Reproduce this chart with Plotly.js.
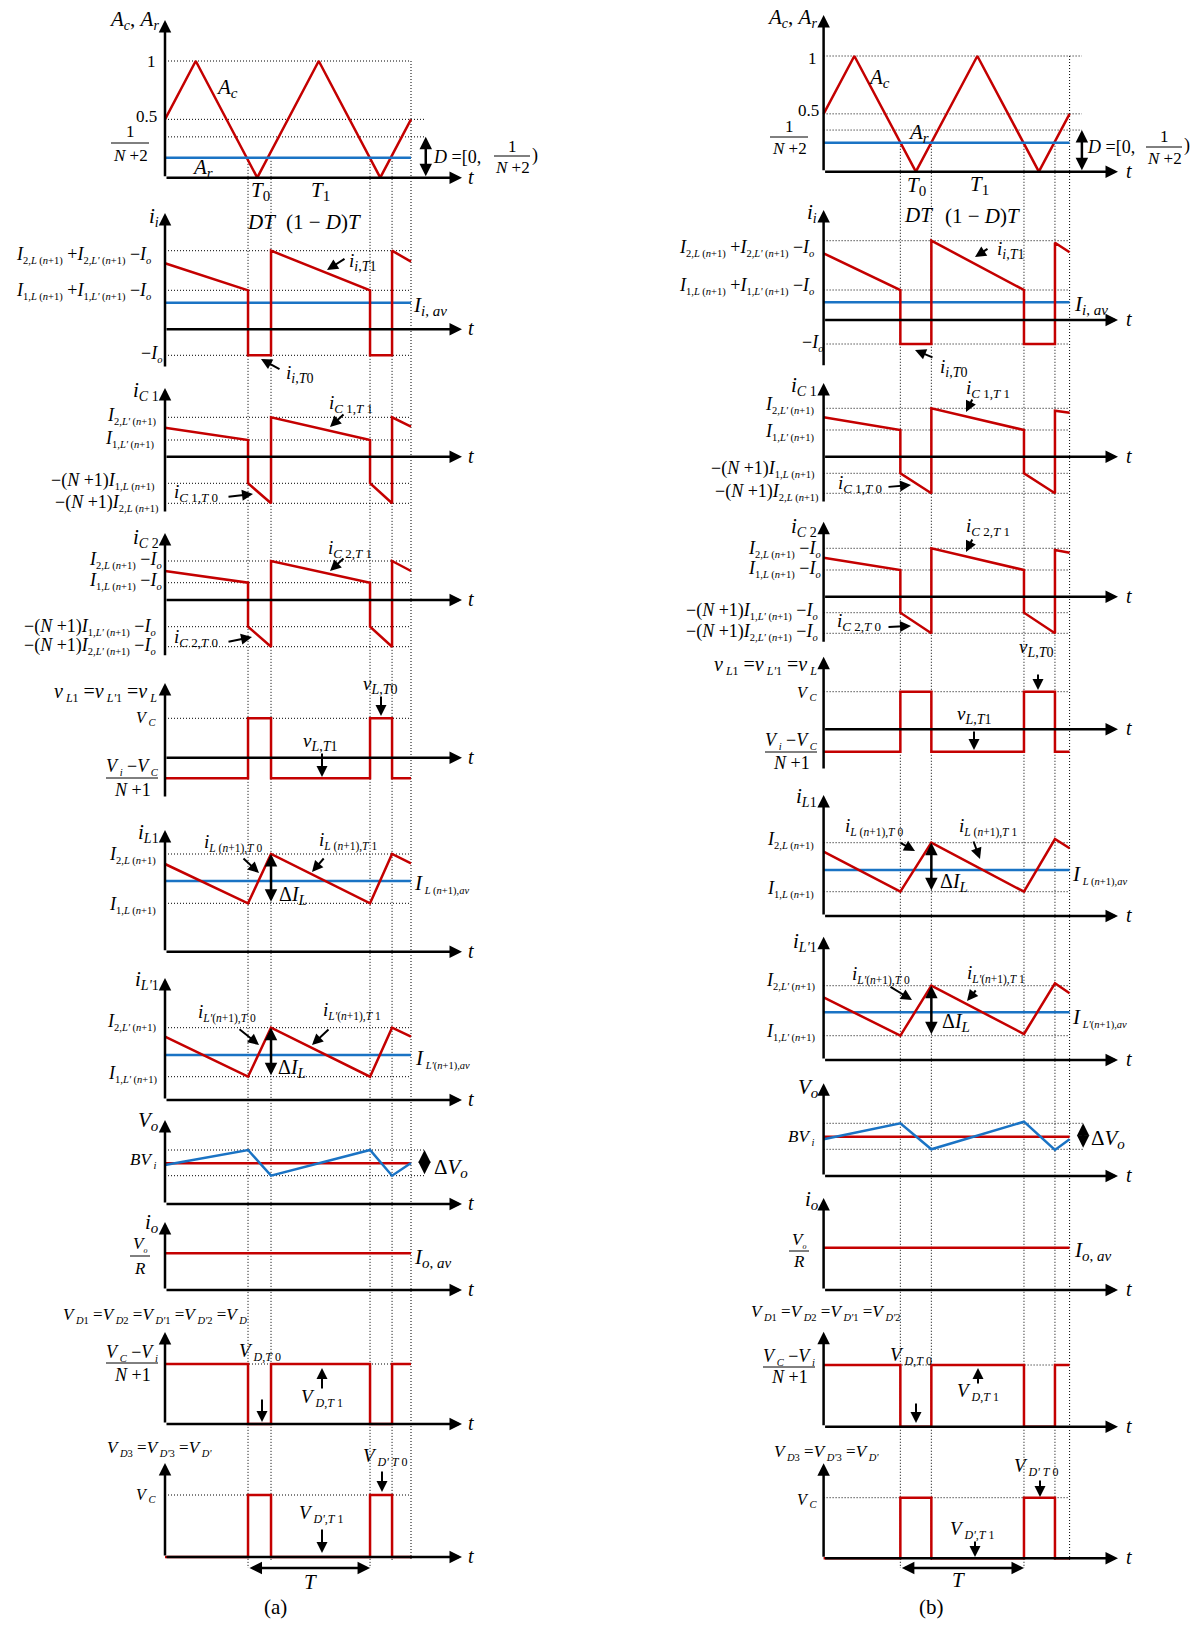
<!DOCTYPE html>
<html>
<head>
<meta charset="utf-8">
<script src="https://cdn.plot.ly/plotly-3.0.1.min.js"></script>
<style>html,body{margin:0;padding:0;background:#fff;}#chart{width:1200px;height:1630px;}</style>
</head>
<body>
<div id="chart"></div>
<script>
// ================= DATA =================
// time in units of the switching period T ; panel values in picture units above the t axis
const carrierT  = [0, 0.25, 0.75, 1.25, 1.75, 2.0];
const carrierAc = [0.5, 1, 0, 1, 0, 0.5];
const tEnd = 2.0;
const arA = 0.17, arB = 0.25;          // A_r level (= D)
const invA = 0.35, invB = 0.36;        // 1/(N+2)
const swA = [0.675, 0.862, 1.667, 1.846];   // switching instants (a)
const swB = [0.624, 0.876, 1.629, 1.881];   // switching instants (b)

// ---- (a) ----
const iiA   = [66, 39, -26, -26, 78.6, 39, -26, -26, 78.6, 67.6];
const iiLvA = [78.6, 39, -26];
const iiAvA = 26.6;
const ic1A   = [29, 16.7, -26.6, -46.6, 39.4, 16.7, -26.6, -46.6, 39.4, 30];
const ic1LvA = [39.4, 16.7, -26.6, -46.6];
const ic2A   = [29, 17.3, -26.7, -46.7, 39, 17.3, -26.7, -46.7, 39, 29];
const ic2LvA = [39, 17.3, -26.7, -46.7];
const vLA   = [-20.6, -20.6, 39.4, 39.4, -20.6, -20.6, 39.4, 39.4, -20.6, -20.6];
const vLLvA = [39.4];
const iL1A   = [87.7, 48.4, 97.7, 48.4, 97.7, 88.4];
const iL1LvA = [97.7, 48.4];
const iL1AvA = 70.7;
const iLpA   = [63.3, 23.3, 72.3, 23.3, 72.3, 63.3];
const iLpLvA = [72.3, 23.3];
const iLpAvA = 45;
const voA   = [39, 54, 28.3, 54, 28.3, 41];
const voLvA = [54, 28.3];
const bvA = 40.7;
const ioA = 36.7;
const vDA   = [60, 60, 0, 0, 60, 60, 0, 0, 60, 60];
const vDLvA = [60];
const vDpA   = [0, 0, 62, 62, 0, 0, 62, 62, 0, 0];
const vDpLvA = [62];

// ---- (b) ----
const iiB   = [66.7, 30, -24, -24, 79.3, 30, -24, -24, 77.3, 67.7];
const iiLvB = [79.3, 30, -24];
const iiAvB = 17.7;
const ic1B   = [39.4, 26.7, -16.6, -36.6, 48.4, 26.7, -16.6, -36.6, 46, 44];
const ic1LvB = [48.4, 26.7, -16.6, -36.6];
const ic2B   = [39, 26.7, -16, -36.6, 48.4, 26.7, -16, -36.6, 46.7, 44];
const ic2LvB = [48.4, 26.7, -16, -36.6];
const vLB   = [-22.4, -22.4, 37.6, 37.6, -22.4, -22.4, 37.6, 37.6, -22.4, -22.4];
const vLLvB = [37.6];
const iL1B   = [64.3, 24.3, 73.3, 24.3, 77, 67.7];
const iL1LvB = [73.3, 24.3];
const iL1AvB = 46;
const iLpB   = [62.7, 24.3, 74.3, 26, 76.7, 66.7];
const iLpLvB = [74.3, 24.3];
const iLpAvB = 47.7;
const voB   = [36.7, 52.7, 26.7, 54.3, 26, 36.7];
const voLvB = [52.7, 26.7];
const bvB = 39.3;
const ioB = 42.3;
const vDB   = [61.7, 61.7, 0, 0, 61.7, 61.7, 0, 0, 61.7, 61.7];
const vDLvB = [61.7];
const vDpB   = [0, 0, 60.6, 60.6, 0, 0, 60.6, 60.6, 0, 0];
const vDpLvB = [60.6];

// ================= STYLE / LAYOUT =================
const W = 1200, H = 1630, PX_T = 123;
const SERIF = 'Liberation Serif';
const RED = '#c40000', BLUE = '#1a73c4', BLK = '#000000';
const DOT = '1px,2px';

const traces = [], annotations = [], shapes = [];
const layout = {
  width: W, height: H, margin: {l: 0, r: 0, t: 0, b: 0},
  paper_bgcolor: '#ffffff', plot_bgcolor: 'rgba(0,0,0,0)', showlegend: false,
  font: {family: SERIF, color: BLK, size: 16}, annotations, shapes
};

function ax(k) { return k === 1 ? ['x', 'y'] : ['x' + k, 'y' + k]; }
function axKeys(k) { return k === 1 ? ['xaxis', 'yaxis'] : ['xaxis' + k, 'yaxis' + k]; }
function defineAxes(k, col, top, bot, yr) {
  const [xk, yk] = axKeys(k), [xi, yi] = ax(k);
  layout[xk] = {domain: [col.left / W, col.right / W],
    range: [(col.left - col.x0) / PX_T, (col.right - col.x0) / PX_T],
    visible: false, fixedrange: true, anchor: yi};
  layout[yk] = {domain: [1 - bot / H, 1 - top / H], range: yr, visible: false, fixedrange: true, anchor: xi};
}
function addLine(k, x, y, color, width, dash) {
  const [xi, yi] = ax(k);
  traces.push({type: 'scatter', mode: 'lines', x, y, xaxis: xi, yaxis: yi,
    line: {color, width, dash: dash || 'solid'}, hoverinfo: 'skip', connectgaps: false});
}
function refs(k, levels, t1) {
  levels.forEach(v => addLine(k, [0, t1], [v, v], BLK, 1, DOT));
}
function arr(k, xt, yt, xh, yh, w, both) {
  const [xi, yi] = ax(k);
  annotations.push({xref: xi, yref: yi, axref: xi, ayref: yi, x: xh, y: yh, ax: xt, ay: yt,
    text: '', showarrow: true, arrowhead: 2, arrowsize: 1, arrowwidth: w, arrowcolor: BLK,
    standoff: 0, startstandoff: 0, arrowside: both ? 'end+start' : 'end',
    startarrowhead: 2, startarrowsize: 1, font: {family: SERIF, size: 10}});
}
function ptr(x1, y1, x2, y2) {
  annotations.push({xref: 'paper', yref: 'paper', x: x2 / W, y: 1 - y2 / H, ax: x1 - x2, ay: y1 - y2,
    axref: 'pixel', ayref: 'pixel', text: '', showarrow: true, arrowhead: 2, arrowsize: 1.1,
    arrowwidth: 2, arrowcolor: BLK, standoff: 0, font: {family: SERIF, size: 10}});
}
function lab(text, x, y, xanchor, size) {
  annotations.push({xref: 'paper', yref: 'paper', x: x / W, y: 1 - y / H, text, showarrow: false,
    xanchor: xanchor || 'center', yanchor: 'middle', borderpad: 0,
    font: {family: SERIF, size: size || 16, color: BLK}});
}
function frac(num, den, cx, yN, yB, yD, hw, size) {
  lab(num, cx, yN, 'center', size); lab(den, cx, yD, 'center', size);
  shapes.push({type: 'line', xref: 'paper', yref: 'paper', x0: (cx - hw) / W, x1: (cx + hw) / W,
    y0: 1 - yB / H, y1: 1 - yB / H, line: {color: BLK, width: 1}});
}
function setupPanel(k, col, g) {
  const s = g.s || 1;
  defineAxes(k, col, g.top, g.bot, [(g.ay - g.bot) / s, (g.ay - g.top) / s]);
  const tipT = (col.tip - col.x0) / PX_T;
  arr(k, 0, 0, tipT, 0, 2.5, false);
  arr(k, 0, (g.ay - g.base) / s, 0, (g.ay - g.tipY) / s, 2.5, false);
  lab('<i>t</i>', col.tLab, g.ay - 1, 'left', 20);
}
const pulseT = sw => [0, sw[0], sw[0], sw[1], sw[1], sw[2], sw[2], sw[3], sw[3], tEnd];

// ================= TEXT =================
const TS = 10.5;
const it = s => '<i>' + s + '</i>';
const sb = (s, f) => '<sub><span style="font-size:' + f + 'px">' + s + '</span></sub>';
const nL = a => a + ',' + it('L') + ' (' + it('n') + '+1)';
const nLp = a => a + ',' + it("L'") + ' (' + it('n') + '+1)';
const Io = it('I') + sb(it('o'), TS);
const tx = {
  AcAr: it('A') + sb(it('c'), 14) + ', ' + it('A') + sb(it('r'), 14),
  Ac: it('A') + sb(it('c'), 15),
  Ar: it('A') + sb(it('r'), 15),
  T0: it('T') + sb('0', 15), T1: it('T') + sb('1', 15),
  DT: it('DT'), oneMinusD: '(1 − ' + it('D') + ')' + it('T'),
  Deq: it('D') + ' =[0,',
  ii: it('i') + sb(it('i'), 14),
  iiHi: it('I') + sb(nL('2'), TS) + ' +' + it('I') + sb(nLp('2'), TS) + ' −' + Io,
  iiLo: it('I') + sb(nL('1'), TS) + ' +' + it('I') + sb(nLp('1'), TS) + ' −' + Io,
  negIo: '−' + Io,
  iiAv: it('I') + sb(it('i') + ', ' + it('av'), 15),
  iiT1: it('i') + sb(it('i') + ',' + it('T') + '1', 14),
  iiT0: it('i') + sb(it('i') + ',' + it('T') + '0', 14),
  ic1: it('i') + sb(it('C') + ' 1', 14),
  ic1Hi: it('I') + sb(nLp('2'), TS),
  ic1Lo: it('I') + sb(nLp('1'), TS),
  ic1N1: '−(' + it('N') + ' +1)' + it('I') + sb(nL('1'), TS),
  ic1N2: '−(' + it('N') + ' +1)' + it('I') + sb(nL('2'), TS),
  ic1T1: it('i') + sb(it('C') + ' 1,' + it('T') + ' 1', 13),
  ic1T0: it('i') + sb(it('C') + ' 1,' + it('T') + ' 0', 13),
  ic2: it('i') + sb(it('C') + ' 2', 14),
  ic2Hi: it('I') + sb(nL('2'), TS) + ' −' + Io,
  ic2Lo: it('I') + sb(nL('1'), TS) + ' −' + Io,
  ic2N1: '−(' + it('N') + ' +1)' + it('I') + sb(nLp('1'), TS) + ' −' + Io,
  ic2N2: '−(' + it('N') + ' +1)' + it('I') + sb(nLp('2'), TS) + ' −' + Io,
  ic2T1: it('i') + sb(it('C') + ' 2,' + it('T') + ' 1', 13),
  ic2T0: it('i') + sb(it('C') + ' 2,' + it('T') + ' 0', 13),
  vL: it('v') + sb(' ' + it('L') + '1', 12) + ' =' + it('v') + sb(' ' + it("L'") + '1', 12) + ' =' + it('v') + sb(' ' + it('L'), 12),
  VC: it('V') + sb(' ' + it('C'), TS),
  fViVC: it('V') + sb(' ' + it('i'), TS) + ' −' + it('V') + sb(' ' + it('C'), TS),
  fN1: it('N') + ' +1',
  vLT0: it('v') + sb(it('L') + ',' + it('T') + '0', 14),
  vLT1: it('v') + sb(it('L') + ',' + it('T') + '1', 14),
  iL1: it('i') + sb(it('L') + '1', 14),
  iLHi: it('I') + sb(nL('2'), TS),
  iLLo: it('I') + sb(nL('1'), TS),
  iLAv: it('I') + sb(' ' + it('L') + ' (' + it('n') + '+1),' + it('av'), 10.5),
  iLT0: it('i') + sb(it('L') + ' (' + it('n') + '+1),' + it('T') + ' 0', 11.5),
  iLT1: it('i') + sb(it('L') + ' (' + it('n') + '+1),' + it('T') + ' 1', 11.5),
  dIL: 'Δ' + it('I') + sb(it('L'), 15),
  iLp1: it('i') + sb(it("L'") + '1', 14),
  iLpHi: it('I') + sb(nLp('2'), TS),
  iLpLo: it('I') + sb(nLp('1'), TS),
  iLpAv: it('I') + sb(' ' + it("L'") + '(' + it('n') + '+1),' + it('av'), 10.5),
  iLpT0: it('i') + sb(it("L'") + '(' + it('n') + '+1),' + it('T') + ' 0', 11.5),
  iLpT1: it('i') + sb(it("L'") + '(' + it('n') + '+1),' + it('T') + ' 1', 11.5),
  Vo: it('V') + sb(it('o'), 15),
  BVi: it('BV') + sb(' ' + it('i'), TS),
  dVo: 'Δ' + it('V') + sb(it('o'), 15),
  io: it('i') + sb(it('o'), 15),
  fVo: it('V') + sb(it('o'), 8), fR: it('R'),
  ioAv: it('I') + sb(it('o') + ', ' + it('av'), 15),
  VDa: it('V') + sb(' ' + it('D') + '1', TS) + ' =' + it('V') + sb(' ' + it('D') + '2', TS) + ' =' + it('V') + sb(' ' + it("D'") + '1', TS) + ' =' + it('V') + sb(' ' + it("D'") + '2', TS) + ' =' + it('V') + sb(' ' + it('D'), TS),
  VDb: it('V') + sb(' ' + it('D') + '1', TS) + ' =' + it('V') + sb(' ' + it('D') + '2', TS) + ' =' + it('V') + sb(' ' + it("D'") + '1', TS) + ' =' + it('V') + sb(' ' + it("D'") + '2', TS),
  fVCVi: it('V') + sb(' ' + it('C'), TS) + ' −' + it('V') + sb(' ' + it('i'), TS),
  VDT0: it('V') + sb(' ' + it('D') + ',' + it('T') + ' 0', 12),
  VDT1: it('V') + sb(' ' + it('D') + ',' + it('T') + ' 1', 12),
  VDp: it('V') + sb(' ' + it('D') + '3', TS) + ' =' + it('V') + sb(' ' + it("D'") + '3', TS) + ' =' + it('V') + sb(' ' + it("D'"), TS),
  VDpT0: it('V') + sb(' ' + it("D'") + ' ' + it('T') + ' 0', 12),
  VDpT1: it('V') + sb(' ' + it("D'") + ',' + it('T') + ' 1', 12),
  T: it('T')
};
const txt = key => (key in tx ? tx[key] : key);

// ================= GEOMETRY (pixel positions) =================
const colA = {x0: 165, left: 140, right: 485, tip: 462, tLab: 467, dT: 2.12, topRefEnd: 2.0, dVoT: 2.11, tArrowY: 206, TArrowY: 1568};
const colB = {x0: 823.6, left: 800, right: 1145, tip: 1118, tLab: 1125, dT: 2.10, topRefEnd: 2.10, dVoT: 2.11, tArrowY: 199.3, TArrowY: 1568};

const geoA = [
  {ay: 177.7, s: 116.7, top: 12, bot: 184, tipY: 20, base: 177.7},
  {ay: 329.3, top: 208, bot: 372, tipY: 213, base: 368},
  {ay: 456.7, top: 383, bot: 517, tipY: 388, base: 513},
  {ay: 600, top: 528, bot: 661, tipY: 533, base: 656.7},
  {ay: 757.7, top: 678, bot: 802, tipY: 683, base: 798},
  {ay: 951.7, top: 825, bot: 956, tipY: 830, base: 951.7},
  {ay: 1100, top: 973, bot: 1104, tipY: 978, base: 1100},
  {ay: 1204, top: 1115, bot: 1208, tipY: 1120, base: 1204},
  {ay: 1290, top: 1217, bot: 1294, tipY: 1222, base: 1290},
  {ay: 1424, top: 1327, bot: 1428, tipY: 1332, base: 1424},
  {ay: 1557, top: 1458, bot: 1575, tipY: 1463, base: 1557}
];
const geoB = [
  {ay: 171.7, s: 115.7, top: 8, bot: 178, tipY: 15, base: 171.7},
  {ay: 320, top: 205, bot: 370, tipY: 210, base: 366.7},
  {ay: 456.7, top: 378, bot: 507, tipY: 383, base: 503},
  {ay: 596.7, top: 516, bot: 647, tipY: 521.7, base: 643.3},
  {ay: 729.3, top: 651, bot: 774, tipY: 656.7, base: 770},
  {ay: 916, top: 790, bot: 920, tipY: 795, base: 916},
  {ay: 1060, top: 931, bot: 1064, tipY: 936.7, base: 1060},
  {ay: 1176, top: 1078, bot: 1180, tipY: 1083.3, base: 1176},
  {ay: 1290, top: 1193, bot: 1294, tipY: 1198, base: 1290},
  {ay: 1426.7, top: 1326, bot: 1431, tipY: 1331.7, base: 1426.7},
  {ay: 1558.3, top: 1458, bot: 1575, tipY: 1463.3, base: 1558.3}
];

const TK = 18; // tick-label main size
const labelsA = [
  ['AcAr', 160, 20, 'right', 21], ['1', 157, 61, 'right', 17], ['0.5', 158, 116, 'right', 17],
  ['Ac', 227, 88, 'center', 21], ['Ar', 202, 168, 'center', 21],
  ['T0', 260, 191, 'center', 21], ['T1', 320, 191, 'center', 21],
  ['DT', 261, 222, 'center', 21], ['oneMinusD', 323, 222, 'center', 21],
  ['Deq', 432, 157, 'left', 18], [')', 531, 155, 'left', 18],
  ['ii', 160, 217, 'right', 21], ['iiHi', 152, 256, 'right', TK], ['iiLo', 152, 292, 'right', TK],
  ['negIo', 163, 354, 'right', TK], ['iiAv', 412, 306, 'left', 21],
  ['iiT1', 348, 262, 'left', 19], ['iiT0', 285, 374, 'left', 19],
  ['ic1', 160, 391, 'right', 21], ['ic1Hi', 158, 416, 'right', TK], ['ic1Lo', 156, 439, 'right', TK],
  ['ic1N1', 156, 481, 'right', TK], ['ic1N2', 160, 503, 'right', TK],
  ['ic1T1', 328, 404, 'left', 19], ['ic1T0', 173, 493, 'left', 19],
  ['ic2', 160, 538, 'right', 21], ['ic2Hi', 163, 560, 'right', TK], ['ic2Lo', 163, 582, 'right', TK],
  ['ic2N1', 157, 627, 'right', TK], ['ic2N2', 157, 647, 'right', TK],
  ['ic2T1', 327, 549, 'left', 19], ['ic2T0', 173, 638, 'left', 19],
  ['vL', 158, 692, 'right', 20], ['VC', 157, 718, 'right', 16],
  ['vLT0', 362, 685, 'left', 19], ['vLT1', 302, 742, 'left', 19],
  ['iL1', 160, 833, 'right', 21], ['iLHi', 157, 855, 'right', TK], ['iLLo', 157, 905, 'right', TK],
  ['iLAv', 413, 884, 'left', 21], ['iLT0', 203, 843, 'left', 19], ['iLT1', 318, 841, 'left', 19],
  ['dIL', 278, 895, 'left', 20],
  ['iLp1', 160, 980, 'right', 21], ['iLpHi', 158, 1022, 'right', TK], ['iLpLo', 159, 1074, 'right', TK],
  ['iLpAv', 414, 1059, 'left', 21], ['iLpT0', 197, 1013, 'left', 19], ['iLpT1', 322, 1011, 'left', 19],
  ['dIL', 277, 1068, 'left', 20],
  ['Vo', 160, 1121, 'right', 21], ['BVi', 157, 1160, 'right', 17], ['dVo', 433, 1168, 'left', 21],
  ['io', 160, 1223, 'right', 21], ['ioAv', 413, 1258, 'left', 21],
  ['VDa', 62, 1315, 'left', 17], ['VDT0', 238, 1352, 'left', 19], ['VDT1', 300, 1398, 'left', 19],
  ['VDp', 106, 1448, 'left', 17], ['VC', 157, 1495, 'right', 16],
  ['VDpT0', 362, 1457, 'left', 19], ['VDpT1', 298, 1514, 'left', 19],
  ['T', 310, 1582, 'center', 21], ['(a)', 275, 1607, 'center', 21]
];
const fracsA = [
  ['1', it('N') + ' +2', 130, 132, 143, 155, 19, 17],
  ['1', it('N') + ' +2', 512, 146, 156, 168, 18, 17],
  [tx.fViVC, tx.fN1, 132, 767, 778, 790, 26, 18],
  [tx.fVo, tx.fR, 140, 1244, 1256, 1268, 10, 17],
  [tx.fVCVi, tx.fN1, 132, 1353, 1363, 1375, 26, 18]
];
const ptrsA = [
  [346, 258, 327, 270], [281, 370, 261, 359], [345, 413, 330, 427], [227, 497, 253, 494],
  [345, 557, 330, 571], [227, 642, 252, 637], [381, 695, 381, 716], [322, 752, 322, 777],
  [242, 857, 259, 873], [325, 857, 312, 872], [238, 1028, 259, 1045], [330, 1028, 312, 1045],
  [262, 1398, 262, 1422], [322, 1390, 322, 1368], [382, 1470, 382, 1492], [322, 1528, 322, 1553]
];

const labelsB = [
  ['AcAr', 818, 18, 'right', 21], ['1', 818, 58, 'right', 17], ['0.5', 820, 110, 'right', 17],
  ['Ac', 879, 78, 'center', 21], ['Ar', 918, 133, 'center', 21],
  ['T0', 916, 186, 'center', 21], ['T1', 979, 185, 'center', 21],
  ['DT', 918, 215, 'center', 21], ['oneMinusD', 982, 216, 'center', 21],
  ['Deq', 1086, 147, 'left', 18], [')', 1183, 145, 'left', 18],
  ['ii', 818, 213, 'right', 21], ['iiHi', 815, 248, 'right', TK], ['iiLo', 815, 286, 'right', TK],
  ['negIo', 824, 343, 'right', TK], ['iiAv', 1073, 305, 'left', 21],
  ['iiT1', 996, 250, 'left', 19], ['iiT0', 939, 368, 'left', 19],
  ['ic1', 818, 386, 'right', 21], ['ic1Hi', 816, 405, 'right', TK], ['ic1Lo', 816, 432, 'right', TK],
  ['ic1N1', 816, 469, 'right', TK], ['ic1N2', 820, 492, 'right', TK],
  ['ic1T1', 965, 389, 'left', 19], ['ic1T0', 837, 484, 'left', 19],
  ['ic2', 818, 527, 'right', 21], ['ic2Hi', 822, 549, 'right', TK], ['ic2Lo', 822, 569, 'right', TK],
  ['ic2N1', 819, 611, 'right', TK], ['ic2N2', 819, 632, 'right', TK],
  ['ic2T1', 965, 527, 'left', 19], ['ic2T0', 836, 622, 'left', 19],
  ['vL', 818, 665, 'right', 20], ['VC', 818, 693, 'right', 16],
  ['vLT0', 1018, 648, 'left', 19], ['vLT1', 956, 715, 'left', 19],
  ['iL1', 818, 797, 'right', 21], ['iLHi', 815, 840, 'right', TK], ['iLLo', 815, 890, 'right', TK],
  ['iLAv', 1071, 875, 'left', 21], ['iLT0', 844, 827, 'left', 19], ['iLT1', 958, 827, 'left', 19],
  ['dIL', 939, 882, 'left', 20],
  ['iLp1', 818, 942, 'right', 21], ['iLpHi', 817, 982, 'right', TK], ['iLpLo', 817, 1032, 'right', TK],
  ['iLpAv', 1071, 1018, 'left', 21], ['iLpT0', 851, 975, 'left', 19], ['iLpT1', 966, 974, 'left', 19],
  ['dIL', 941, 1022, 'left', 20],
  ['Vo', 820, 1088, 'right', 21], ['BVi', 815, 1137, 'right', 17], ['dVo', 1090, 1139, 'left', 21],
  ['io', 820, 1200, 'right', 21], ['ioAv', 1073, 1251, 'left', 21],
  ['VDb', 750, 1312, 'left', 17], ['VDT0', 889, 1356, 'left', 19], ['VDT1', 956, 1392, 'left', 19],
  ['VDp', 773, 1452, 'left', 17], ['VC', 818, 1500, 'right', 16],
  ['VDpT0', 1013, 1467, 'left', 19], ['VDpT1', 949, 1530, 'left', 19],
  ['T', 958, 1580, 'center', 21], ['(b)', 932, 1607, 'center', 21]
];
const fracsB = [
  ['1', it('N') + ' +2', 789, 127, 137, 148, 19, 17],
  ['1', it('N') + ' +2', 1164, 137, 147, 158, 18, 17],
  [tx.fViVC, tx.fN1, 791, 741, 752, 763, 26, 18],
  [tx.fVo, tx.fR, 799, 1240, 1251, 1261, 10, 17],
  [tx.fVCVi, tx.fN1, 789, 1357, 1367, 1377, 26, 18]
];
const ptrsB = [
  [989, 248, 975, 257], [934, 358, 915, 350], [973, 398, 966, 412], [887, 487, 911, 485],
  [973, 538, 966, 552], [887, 627, 911, 626], [1038, 673, 1038, 690], [974, 730, 974, 750],
  [899, 842, 915, 851], [973, 840, 980, 859], [889, 986, 912, 1000], [977, 989, 967, 1001],
  [916, 1402, 916, 1423], [978, 1385, 978, 1368], [1040, 1479, 1040, 1497], [975, 1540, 975, 1557]
];

// ================= BUILD =================
function drawColumn(col, ov, k0, geo, D, labels, fracs, ptrs) {
  // overlay subplot holding the dotted timing guides (x = t, y = page pixels)
  defineAxes(ov, col, 0, H, [H, 0]);
  const g1 = geo[0];
  const gx = [], gy = [];
  D.sw.forEach((t, i) => { gx.push(t, t, null); gy.push(g1.ay - D.ar * g1.s, i % 2 === 0 ? col.TArrowY : 1561, null); });
  gx.push(tEnd, tEnd, null); gy.push(g1.ay - 1 * g1.s, 1561, null);
  addLine(ov, gx, gy, BLK, 1, DOT);

  const k = i => k0 + i;
  geo.forEach((g, i) => setupPanel(k(i), col, g));
  const pT = pulseT(D.sw), rT = [0, ...D.sw, tEnd];

  // 0: carrier / reference
  addLine(k(0), [0, col.topRefEnd], [1, 1], BLK, 1, DOT);
  addLine(k(0), [0, col.dT], [0.5, 0.5], BLK, 1, DOT);
  addLine(k(0), [0, col.dT], [D.inv, D.inv], BLK, 1, DOT);
  addLine(k(0), carrierT, carrierAc, RED, 2.5);
  addLine(k(0), [0, tEnd], [D.ar, D.ar], BLUE, 2.5);
  arr(k(0), col.dT, 0, col.dT, D.inv, 2.5, true);
  const yT = (g1.ay - col.tArrowY) / g1.s;
  arr(k(0), D.sw[0], yT, D.sw[1], yT, 2.5, true);
  arr(k(0), D.sw[1], yT, D.sw[2], yT, 2.5, true);

  // 1: input current
  refs(k(1), D.iiLv, tEnd);
  addLine(k(1), [0, tEnd], [D.iiAv, D.iiAv], BLUE, 2.5);
  addLine(k(1), pT, D.ii, RED, 2.5);
  // 2: iC1
  refs(k(2), D.ic1Lv, tEnd);
  addLine(k(2), pT, D.ic1, RED, 2.5);
  // 3: iC2
  refs(k(3), D.ic2Lv, tEnd);
  addLine(k(3), pT, D.ic2, RED, 2.5);
  // 4: vL
  refs(k(4), D.vLLv, tEnd);
  addLine(k(4), pT, D.vL, RED, 2.5);
  // 5: iL1
  refs(k(5), D.iL1Lv, tEnd);
  addLine(k(5), [0, tEnd], [D.iL1Av, D.iL1Av], BLUE, 2.5);
  addLine(k(5), rT, D.iL1, RED, 2.5);
  arr(k(5), D.sw[1], D.iL1Lv[1], D.sw[1], D.iL1Lv[0], 2.5, true);
  // 6: iL'1
  refs(k(6), D.iLpLv, tEnd);
  addLine(k(6), [0, tEnd], [D.iLpAv, D.iLpAv], BLUE, 2.5);
  addLine(k(6), rT, D.iLp, RED, 2.5);
  arr(k(6), D.sw[1], D.iLpLv[1], D.sw[1], D.iLpLv[0], 2.5, true);
  // 7: Vo
  refs(k(7), D.voLv, col.dVoT);
  addLine(k(7), [0, tEnd], [D.bv, D.bv], RED, 2.5);
  addLine(k(7), rT, D.vo, BLUE, 2.5);
  arr(k(7), col.dVoT, D.voLv[1], col.dVoT, D.voLv[0], 2.5, true);
  // 8: io
  addLine(k(8), [0, tEnd], [D.io, D.io], RED, 2.5);
  // 9: VD
  refs(k(9), D.vDLv, tEnd);
  addLine(k(9), pT, D.vD, RED, 2.5);
  // 10: VD'
  refs(k(10), D.vDpLv, tEnd);
  addLine(k(10), pT, D.vDp, RED, 2.5);
  const g11 = geo[10];
  const yTT = g11.ay - col.TArrowY;
  arr(k(10), D.sw[0], yTT, D.sw[2], yTT, 2.5, true);

  labels.forEach(l => lab(txt(l[0]), l[1], l[2], l[3], l[4]));
  fracs.forEach(f => frac(f[0], f[1], f[2], f[3], f[4], f[5], f[6], f[7]));
  ptrs.forEach(p => ptr(p[0], p[1], p[2], p[3]));
}

drawColumn(colA, 1, 3, geoA, {
  sw: swA, ar: arA, inv: invA, ii: iiA, iiLv: iiLvA, iiAv: iiAvA, ic1: ic1A, ic1Lv: ic1LvA,
  ic2: ic2A, ic2Lv: ic2LvA, vL: vLA, vLLv: vLLvA, iL1: iL1A, iL1Lv: iL1LvA, iL1Av: iL1AvA,
  iLp: iLpA, iLpLv: iLpLvA, iLpAv: iLpAvA, vo: voA, voLv: voLvA, bv: bvA, io: ioA,
  vD: vDA, vDLv: vDLvA, vDp: vDpA, vDpLv: vDpLvA
}, labelsA, fracsA, ptrsA);

drawColumn(colB, 2, 14, geoB, {
  sw: swB, ar: arB, inv: invB, ii: iiB, iiLv: iiLvB, iiAv: iiAvB, ic1: ic1B, ic1Lv: ic1LvB,
  ic2: ic2B, ic2Lv: ic2LvB, vL: vLB, vLLv: vLLvB, iL1: iL1B, iL1Lv: iL1LvB, iL1Av: iL1AvB,
  iLp: iLpB, iLpLv: iLpLvB, iLpAv: iLpAvB, vo: voB, voLv: voLvB, bv: bvB, io: ioB,
  vD: vDB, vDLv: vDLvB, vDp: vDpB, vDpLv: vDpLvB
}, labelsB, fracsB, ptrsB);

Plotly.newPlot('chart', traces, layout, {staticPlot: true, displayModeBar: false});
</script>
</body>
</html>
